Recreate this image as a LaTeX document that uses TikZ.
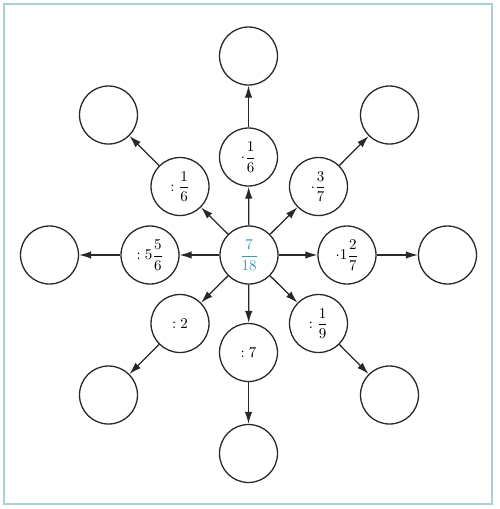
\documentclass[tikz,border=0pt]{standalone}
\usepackage{amsmath}
\usepackage{graphicx}
\usetikzlibrary{arrows.meta}
\definecolor{frameC}{RGB}{170,208,210}
\definecolor{tealC}{RGB}{55,155,172}
\definecolor{lineC}{RGB}{40,40,40}
\newcommand{\bigt}[1]{\scalebox{1.5}{#1}}
\tikzset{
  bub/.style={circle,draw=lineC,line width=1.3pt,minimum size=58pt,inner sep=0pt},
  arr/.style={draw=lineC,line width=1.3pt,-{Latex[length=12pt,width=7.5pt]}}
}
\begin{document}
\begin{tikzpicture}[x=1pt,y=-1pt]
\useasboundingbox (0,0) rectangle (500,509);
\draw[frameC,line width=1.5pt] (4,4) rectangle (492,504);
% center
\node[bub] (c) at (249,255) {\bigt{$\color{tealC}\dfrac{7}{18}$}};
% middle ring
\node[bub] (mN) at (248.5,157) {\bigt{$\cdot\dfrac{1}{6}$}};
\node[bub] (mNE) at (318.5,186.5) {\bigt{$\cdot\dfrac{3}{7}$}};
\node[bub] (mE) at (347,255) {\bigt{$\cdot1\dfrac{2}{7}$}};
\node[bub] (mSE) at (318.5,323.5) {\bigt{$:\dfrac{1}{9}$}};
\node[bub] (mS) at (248.5,352.5) {\bigt{$:7$}};
\node[bub] (mSW) at (180,323.5) {\bigt{$:2$}};
\node[bub] (mW) at (150,255) {\bigt{$:5\dfrac{5}{6}$}};
\node[bub] (mNW) at (180,186.5) {\bigt{$:\dfrac{1}{6}$}};
% outer ring
\node[bub] (oN) at (248.5,56) {};
\node[bub] (oNE) at (389.5,115) {};
\node[bub] (oE) at (447.5,255) {};
\node[bub] (oSE) at (389.5,395) {};
\node[bub] (oS) at (248.5,453.5) {};
\node[bub] (oSW) at (108.5,395) {};
\node[bub] (oW) at (49.5,255) {};
\node[bub] (oNW) at (108.5,115) {};
% arrows
\foreach \d in {N,NE,E,SE,S,SW,W,NW}{
  \draw[arr] (c) -- (m\d);
  \draw[arr] (m\d) -- (o\d);
}
\end{tikzpicture}
\end{document}
